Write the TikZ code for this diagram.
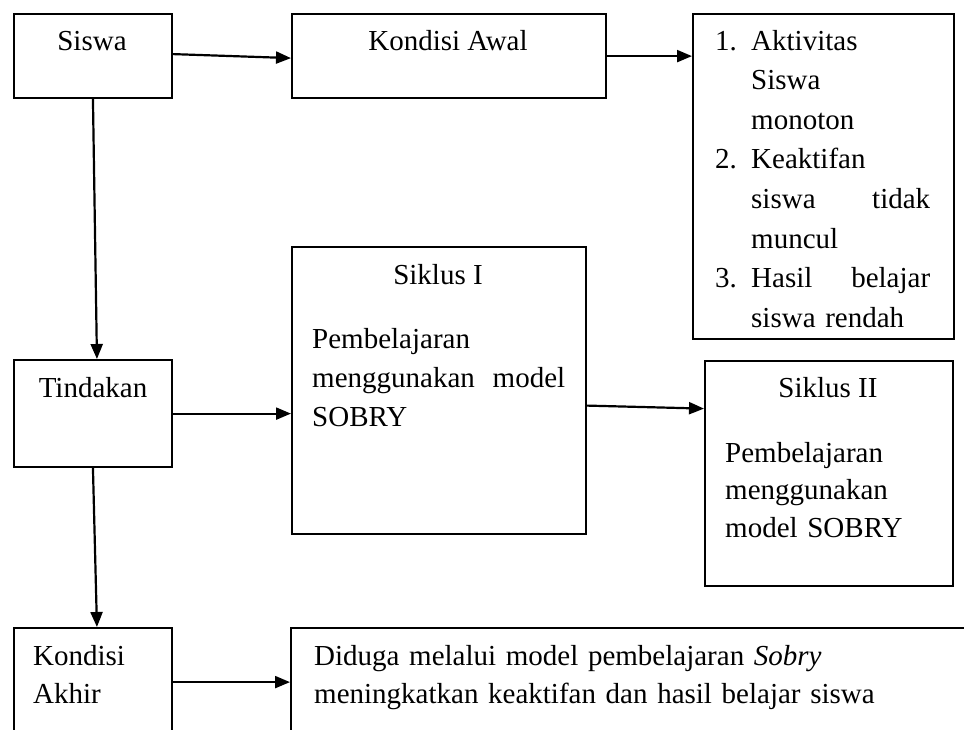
\documentclass[tikz,border=0pt]{standalone}
\usepackage{fontspec}
\setmainfont{Liberation Serif}
\usetikzlibrary{arrows.meta}

\begin{document}
\begin{tikzpicture}[x=1pt, y=-1pt,
    box/.style={draw, rectangle, line width=2.2pt, inner sep=0pt, anchor=north west},
    txt/.style={inner sep=0pt, font=\fontsize{29}{39}\selectfont},
    arr/.style={line width=2.2pt, -{Triangle[length=15pt,width=12pt]}}]
        \useasboundingbox (0,0) rectangle (964,729);
        \clip (0,0) rectangle (964,729);

        % kotak
        \node (Siswa) [box, minimum width=158.3, minimum height=84] at (12.7,13) {};
        \node (Awal) [box, minimum width=314, minimum height=84] at (291,13) {};
        \node (Masalah) [box, minimum width=261, minimum height=325] at (692,13) {};
        \node (Tindakan) [box, minimum width=158.3, minimum height=107] at (12.7,359) {};
        \node (SiklusI) [box, minimum width=294, minimum height=287] at (291,246) {};
        \node (SiklusII) [box, minimum width=248, minimum height=225] at (704,360) {};
        \node (Akhir) [box, minimum width=158.3, minimum height=150] at (12.7,627) {};
        \node (Hipotesis) [box, minimum width=720, minimum height=150] at (290,627) {};

        % teks
        \node (SiswaT) [txt, anchor=base] at (92,50) {Siswa};
        \node (AwalT) [txt, anchor=base] at (448,50) {Kondisi Awal};
        \node (MasalahT) [txt, anchor=base west, text width=215, align=left,
            font=\fontsize{29}{39.6}\selectfont] at (715,50)
            {\makebox[36pt][l]{1.}Aktivitas\\
             \hspace*{36pt}Siswa\\
             \hspace*{36pt}monoton\\
             \makebox[36pt][l]{2.}Keaktifan\\
             \hspace*{36pt}siswa\hfill tidak\\
             \hspace*{36pt}muncul\\
             \makebox[36pt][l]{3.}Hasil\hfill belajar\\
             \hspace*{36pt}siswa rendah};
        \node (TindakanT) [txt, anchor=base] at (93,397) {Tindakan};
        \node (SiklusIT) [txt, anchor=base] at (438,284) {Siklus I};
        \node (SiklusIB) [txt, anchor=base west, text width=253, align=left] at (312,348)
            {Pembelajaran\\ menggunakan\hfill model\\ SOBRY};
        \node (SiklusIIT) [txt, anchor=base] at (828,397) {Siklus II};
        \node (SiklusIIB) [txt, anchor=base west, text width=210, align=left,
            font=\fontsize{29}{37.5}\selectfont] at (725,462)
            {Pembelajaran\\ menggunakan\\ model SOBRY};
        \node (AkhirT) [txt, anchor=base west, text width=130, align=left,
            font=\fontsize{29}{38}\selectfont] at (33,665) {Kondisi\\ Akhir};
        \node (HipotesisT) [txt, anchor=base west, text width=640, align=left,
            font=\fontsize{29}{38}\selectfont] at (314,665)
            {Diduga melalui model pembelajaran \textit{Sobry}\\
             meningkatkan keaktifan dan hasil belajar siswa};

        % panah
        \draw [arr] ([yshift=2pt]Siswa.east) -- ([yshift=-2pt]Awal.west);
        \draw [arr] (Awal.east) -- (Awal.east -| Masalah.west);
        \draw [arr] (Siswa.south) -- ([xshift=4pt]Tindakan.north);
        \draw [arr] (Tindakan.east) -- (Tindakan.east -| SiklusI.west);
        \draw [arr] ([yshift=-15pt]SiklusI.east) -- ([yshift=-18pt]SiklusI.east -| SiklusII.west);
        \draw [arr] (Tindakan.south) -- ([xshift=4pt]Akhir.north);
        \draw [arr] ([yshift=21pt]Akhir.east) -- ([yshift=21pt]Akhir.east -| Hipotesis.west);
      \end{tikzpicture}
\end{document}
